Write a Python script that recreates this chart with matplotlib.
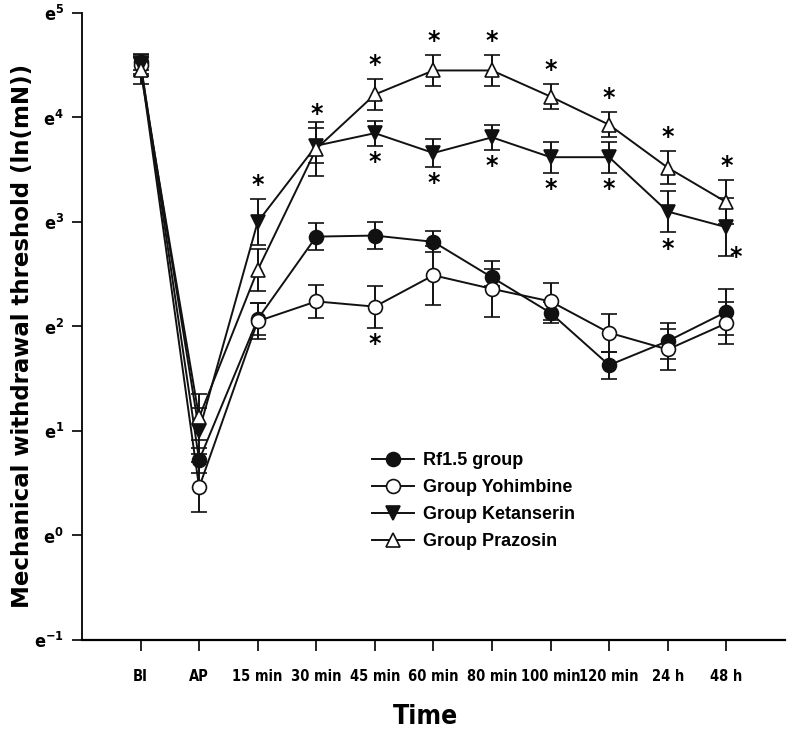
import numpy as np
import matplotlib.pyplot as plt
from matplotlib import font_manager
from matplotlib.lines import Line2D

# time points on the x axis
labels = ['BI', 'AP', '15 min', '30 min', '45 min', '60 min', '80 min',
          '100 min', '120 min', '24 h', '48 h']

# values are exponents, threshold = e^value (mN)
rf15 = [4.53, 0.72, 2.07, 2.86, 2.87, 2.81, 2.47, 2.13, 1.63, 1.86, 2.14]
rf15_err = [0.08, 0.12, 0.15, 0.13, 0.13, 0.10, 0.08, 0.10, 0.13, 0.17, 0.22]

yoh = [4.50, 0.46, 2.05, 2.24, 2.19, 2.49, 2.36, 2.24, 1.94, 1.78, 2.03]
yoh_err = [0.08, 0.24, 0.17, 0.16, 0.20, 0.28, 0.27, 0.18, 0.18, 0.20, 0.20]

ket = [4.50, 1.00, 3.00, 3.73, 3.85, 3.66, 3.81, 3.62, 3.62, 3.10, 2.95]
ket_err = [0.10, 0.22, 0.22, 0.17, 0.12, 0.13, 0.12, 0.15, 0.15, 0.20, 0.28]

pra = [4.45, 1.13, 2.54, 3.70, 4.22, 4.45, 4.45, 4.20, 3.93, 3.52, 3.19]
pra_err = [0.13, 0.22, 0.20, 0.26, 0.15, 0.15, 0.15, 0.12, 0.12, 0.16, 0.21]

# significance stars: (group, time index, where)
stars = [('ket', 2, 'above'), ('ket', 3, 'above'),
         ('pra', 4, 'above'), ('ket', 4, 'below'), ('yoh', 4, 'below'),
         ('pra', 5, 'above'), ('ket', 5, 'below'),
         ('pra', 6, 'above'), ('ket', 6, 'below'),
         ('pra', 7, 'above'), ('ket', 7, 'below'),
         ('pra', 8, 'above'), ('ket', 8, 'below'),
         ('pra', 9, 'above'), ('ket', 9, 'below'),
         ('pra', 10, 'above'), ('ket', 10, 'right')]

# pick a narrow font for the tick labels if one is installed
fonts = font_manager.fontManager.ttflist
names = {f.name for f in fonts}
if 'Liberation Sans Narrow' in names:
    narrow = dict(family='Liberation Sans Narrow', stretch='normal')
    tick_size = 12
elif any(f.name == 'DejaVu Sans' and 'Condensed' in f.fname for f in fonts):
    narrow = dict(family='DejaVu Sans', stretch='condensed')
    tick_size = 10.5
else:
    narrow = dict(family='DejaVu Sans', stretch='normal')
    tick_size = 9.5

groups = {
    'rf15': dict(y=rf15, err=rf15_err, marker='o', fc='#111111', label='Rf1.5 group'),
    'yoh': dict(y=yoh, err=yoh_err, marker='o', fc='white', label='Group Yohimbine'),
    'ket': dict(y=ket, err=ket_err, marker='v', fc='#111111', label='Group Ketanserin'),
    'pra': dict(y=pra, err=pra_err, marker='^', fc='white', label='Group Prazosin'),
}

fig = plt.figure(figsize=(7.88, 7.42), dpi=100)
ax = fig.add_axes([0.104, 0.1375, 0.892, 0.845])

x = np.arange(len(labels))
handles = []
for key in ['rf15', 'yoh', 'ket', 'pra']:
    g = groups[key]
    ax.errorbar(x, g['y'], yerr=g['err'], color='#111111', lw=1.4,
                elinewidth=1.4, capsize=5.5, capthick=1.4, marker=g['marker'],
                ms=10, mfc=g['fc'], mec='#111111', mew=1.2, zorder=3)
    handles.append(Line2D([], [], color='#111111', lw=1.4, marker=g['marker'],
                          ms=10, mfc=g['fc'], mec='#111111', mew=1.2,
                          label=g['label']))

for key, i, where in stars:
    g = groups[key]
    if where == 'above':
        xs, ys = x[i], g['y'][i] + g['err'][i] + 0.02
    elif where == 'below':
        xs, ys = x[i], g['y'][i] - g['err'][i] - 0.27
    else:
        xs, ys = x[i] + 0.16, g['y'][i] - g['err'][i] - 0.12
    ax.text(xs, ys, '*', ha='center', va='bottom', fontsize=17,
            fontweight='bold', family='DejaVu Sans')

ax.set_xlim(-1, 11)
ax.set_ylim(-1, 5)
ax.set_xticks(x)
ax.set_xticklabels(labels)
yt = np.arange(-1, 6)
ax.set_yticks(yt)
ax.set_yticklabels([r'$\mathregular{e^{%d}}$' % k for k in yt])
for t in ax.get_xticklabels() + ax.get_yticklabels():
    t.set_family(narrow['family'])
    t.set_stretch(narrow['stretch'])
    t.set_fontweight('bold')
    t.set_fontsize(tick_size)
for t in ax.get_yticklabels():
    t.set_fontsize(13)

ax.spines['top'].set_visible(False)
ax.spines['right'].set_visible(False)
ax.spines['left'].set_linewidth(1.3)
ax.spines['bottom'].set_linewidth(1.6)
ax.tick_params(axis='x', direction='out', length=8, width=1.2, pad=13)
ax.tick_params(axis='y', direction='out', length=7, width=1.2, pad=6)

ax.legend(handles=handles, loc='upper left', bbox_to_anchor=(0.39, 0.325),
          frameon=False, handlelength=2.3, handletextpad=0.5,
          labelspacing=0.55,
          prop={'family': 'Liberation Sans', 'weight': 'bold', 'size': 13})

fig.text(0.028, 0.547, 'Mechanical withdrawal threshold (ln(mN))', rotation=90,
         ha='center', va='center', fontsize=16.5, fontweight='bold',
         family='DejaVu Sans')
fig.text(0.54, 0.034, 'Time', ha='center', va='center', fontsize=19,
         fontweight='bold', family=narrow['family'], stretch=narrow['stretch'])

fig.savefig('out.png', dpi=100)
